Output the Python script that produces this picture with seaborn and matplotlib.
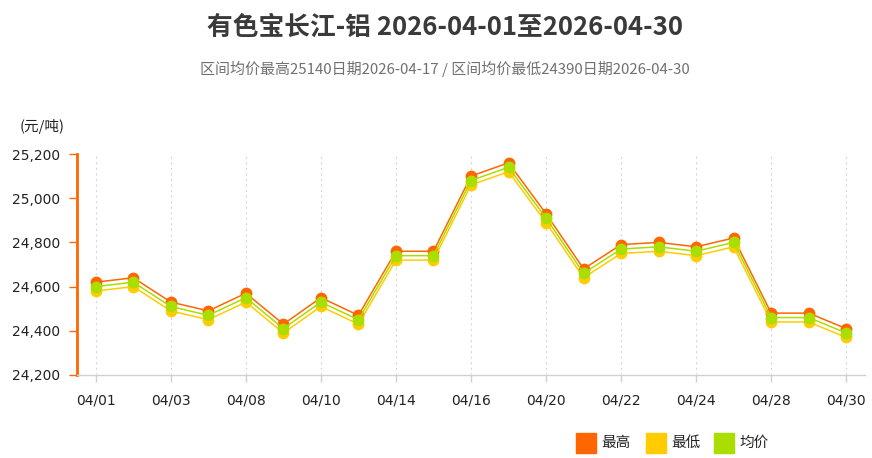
import matplotlib
matplotlib.use("Agg")
import matplotlib.pyplot as plt
import seaborn as sns
import pandas as pd
from matplotlib.ticker import FuncFormatter, MultipleLocator

dates = ["04/01", "04/02", "04/03", "04/07", "04/08", "04/09", "04/10", "04/13",
         "04/14", "04/15", "04/16", "04/17", "04/20", "04/21", "04/22", "04/23",
         "04/24", "04/27", "04/28", "04/29", "04/30"]
high = [24620, 24640, 24530, 24490, 24570, 24430, 24550, 24470, 24760, 24760, 25100,
        25160, 24930, 24680, 24790, 24800, 24780, 24820, 24480, 24480, 24410]
low = [24580, 24600, 24490, 24450, 24530, 24390, 24510, 24430, 24720, 24720, 25060,
       25120, 24890, 24640, 24750, 24760, 24740, 24780, 24440, 24440, 24370]
avg = [24600, 24620, 24510, 24470, 24550, 24410, 24530, 24450, 24740, 24740, 25080,
       25140, 24910, 24660, 24770, 24780, 24760, 24800, 24460, 24460, 24390]
series_names = ["最高", "最低", "均价"]
colors = {"最高": "#FF6600", "最低": "#FFCC00", "均价": "#AADD00"}

title = "有色宝长江-铝 2026-04-01至2026-04-30"
subtitle = "区间均价最高25140日期2026-04-17 / 区间均价最低24390日期2026-04-30"
unit = "(元/吨)"

sns.set_theme(style="white")
plt.rcParams["font.family"] = ["Noto Sans CJK SC", "DejaVu Sans"]

df = pd.DataFrame({
    "date": dates * 3,
    "pos": list(range(len(dates))) * 3,
    "value": high + low + avg,
    "series": [series_names[0]] * len(dates) + [series_names[1]] * len(dates) + [series_names[2]] * len(dates),
})

fig = plt.figure(figsize=(8.72, 4.58), dpi=100)
ax = fig.add_axes([77 / 872, 1 - 375 / 458, (865 - 77) / 872, (375 - 154) / 458])

sns.lineplot(data=df, x="pos", y="value", hue="series", hue_order=series_names,
             palette=colors, marker="o", markersize=8.5, markeredgewidth=0,
             linewidth=1.1, legend=False, ax=ax, sort=False)

ax.set_xlim(-0.5, len(dates) - 0.5)
ax.set_ylim(24200, 25200)
ax.yaxis.set_major_locator(MultipleLocator(200))
ax.yaxis.set_major_formatter(FuncFormatter(lambda v, p: f"{int(v):,}"))
tick_pos = list(range(0, len(dates), 2))
ax.set_xticks(tick_pos)
ax.set_xticklabels([dates[i] for i in tick_pos], family="DejaVu Sans", fontsize=10, color="#222222")
for lab in ax.get_yticklabels():
    lab.set_family("DejaVu Sans")
    lab.set_fontsize(10)
    lab.set_color("#222222")
ax.set_xlabel("")
ax.set_ylabel("")

ax.grid(False)
for p in tick_pos:
    ax.axvline(p, color="#d8d8d8", linestyle=(0, (2, 3)), linewidth=0.8, zorder=0)

for s in ["top", "right"]:
    ax.spines[s].set_visible(False)
ax.spines["left"].set_color("#FF6600")
ax.spines["left"].set_linewidth(2)
ax.spines["bottom"].set_color("#d0d0d0")
ax.spines["bottom"].set_linewidth(1)
ax.tick_params(axis="y", which="major", direction="out", length=6, width=1,
               color="#FF6600", pad=6, left=True)
ax.tick_params(axis="x", which="major", direction="out", length=5, width=1,
               color="#d0d0d0", pad=8, bottom=True)

fig.text(445 / 872, 1 - 27 / 458, title, ha="center", va="center",
         fontsize=18.5, fontweight="bold", color="#3a3a3a")
fig.text(445 / 872, 1 - 69 / 458, subtitle, ha="center", va="center",
         fontsize=10.8, color="#707070")
fig.text(20 / 872, 1 - 127 / 458, unit, ha="left", va="center",
         fontsize=10.5, color="#222222")

# legend
lx = [576, 646, 714]
for x0, name in zip(lx, series_names):
    fig.patches.append(plt.Rectangle((x0 / 872, 1 - 453 / 458), 20 / 872, 20 / 458,
                                     transform=fig.transFigure, color=colors[name],
                                     figure=fig))
    fig.text((x0 + 25) / 872, 1 - 443 / 458, name, ha="left", va="center",
             fontsize=10.5, color="#222222")

fig.savefig("out.png", dpi=100)
